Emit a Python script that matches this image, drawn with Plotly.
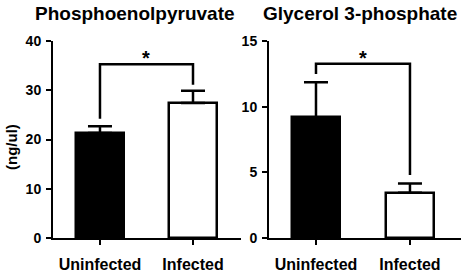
import plotly.graph_objects as go

# ---- data ----
categories = ["Uninfected", "Infected"]
pep_mean = [21.3, 27.4]
pep_err = [1.4, 2.5]
g3p_mean = [9.2, 3.45]
g3p_err = [2.65, 0.7]
titles = ["Phosphoenolpyruvate", "Glycerol 3-phosphate"]
y_label = "(ng/ul)"
pep_ticks = [0, 10, 20, 30, 40]
g3p_ticks = [0, 5, 10, 15]
# significance brackets: [top, left arm bottom, right arm bottom]
pep_bracket = [35.3, 24.2, 31.1]
g3p_bracket = [13.26, 12.49, 4.8]
sig_label = "*"

W, H = 461, 274
FONT = "Arial, Liberation Sans, sans-serif"


def fx(p):
    return p / W


def fy(p):
    return 1 - p / H


fig = go.Figure()
bar_colors = ["black", "white"]
xpos = list(range(len(categories)))

for i, (means, errs, br) in enumerate([(pep_mean, pep_err, pep_bracket),
                                        (g3p_mean, g3p_err, g3p_bracket)]):
    xa = "x" if i == 0 else "x2"
    ya = "y" if i == 0 else "y2"
    fig.add_trace(go.Bar(
        x=xpos, y=means, width=0.52, xaxis=xa, yaxis=ya,
        marker=dict(color=bar_colors, line=dict(color="black", width=2.5)),
        error_y=dict(type="data", symmetric=False, array=errs,
                     arrayminus=[0] * len(errs), color="black",
                     thickness=2.5, width=12),
        showlegend=False, hoverinfo="skip",
    ))
    fig.add_trace(go.Scatter(
        x=[xpos[0], xpos[0], xpos[1], xpos[1]],
        y=[br[1], br[0], br[0], br[2]],
        mode="lines", line=dict(color="black", width=2.5),
        xaxis=xa, yaxis=ya, showlegend=False, hoverinfo="skip",
    ))
    fig.add_annotation(
        x=(xpos[0] + xpos[1]) / 2, y=br[0], xref=xa, yref=ya,
        text="<b>" + sig_label + "</b>", showarrow=False,
        yanchor="bottom", yshift=-7,
        font=dict(family=FONT, size=20, color="black"),
    )

axis_common = dict(
    showline=True, linewidth=2, linecolor="black", showgrid=False,
    zeroline=False, ticks="outside", ticklen=5, tickwidth=2,
    tickcolor="black", automargin=False,
    tickfont=dict(family=FONT, size=14, color="black", weight="bold"),
)
xfont = dict(family=FONT, size=16, color="black", weight="bold")

ydom = [fy(238), fy(41)]

fig.update_layout(
    template="none",
    width=W, height=H, autosize=False,
    margin=dict(l=0, r=0, t=0, b=0, pad=0),
    paper_bgcolor="white", plot_bgcolor="white",
    bargap=0,
    xaxis=dict(domain=[fx(53), fx(241)], range=[-0.505, 1.516],
               tickvals=xpos, ticktext=categories, anchor="y",
               ticklabelstandoff=6, **{**axis_common, "tickfont": xfont}),
    yaxis=dict(domain=ydom, range=[0, 40], tickvals=pep_ticks,
               anchor="x", ticklabelstandoff=2, **axis_common),
    xaxis2=dict(domain=[fx(269), 1.0], range=[-0.5, 1.543],
                tickvals=xpos, ticktext=categories, anchor="y2",
                ticklabelstandoff=6, **{**axis_common, "tickfont": xfont}),
    yaxis2=dict(domain=ydom, range=[0, 15], tickvals=g3p_ticks,
                anchor="x2", ticklabelstandoff=2, **axis_common),
)

fig.add_annotation(x=fx(135), y=fy(13), xref="paper", yref="paper",
                   text="<b>" + titles[0] + "</b>", showarrow=False,
                   xanchor="center", yanchor="middle",
                   font=dict(family=FONT, size=19, color="black"))
fig.add_annotation(x=fx(360), y=fy(13), xref="paper", yref="paper",
                   text="<b>" + titles[1] + "</b>", showarrow=False,
                   xanchor="center", yanchor="middle",
                   font=dict(family=FONT, size=19, color="black"))
fig.add_annotation(x=fx(11), y=fy(147), xref="paper", yref="paper",
                   text="<b>" + y_label + "</b>", showarrow=False,
                   textangle=-90, xanchor="center", yanchor="middle",
                   font=dict(family=FONT, size=15, color="black"))

fig.write_html("out.html", config={"displayModeBar": False},
               post_script="document.body.style.margin='0px';"
                           "document.body.style.overflow='hidden';")
